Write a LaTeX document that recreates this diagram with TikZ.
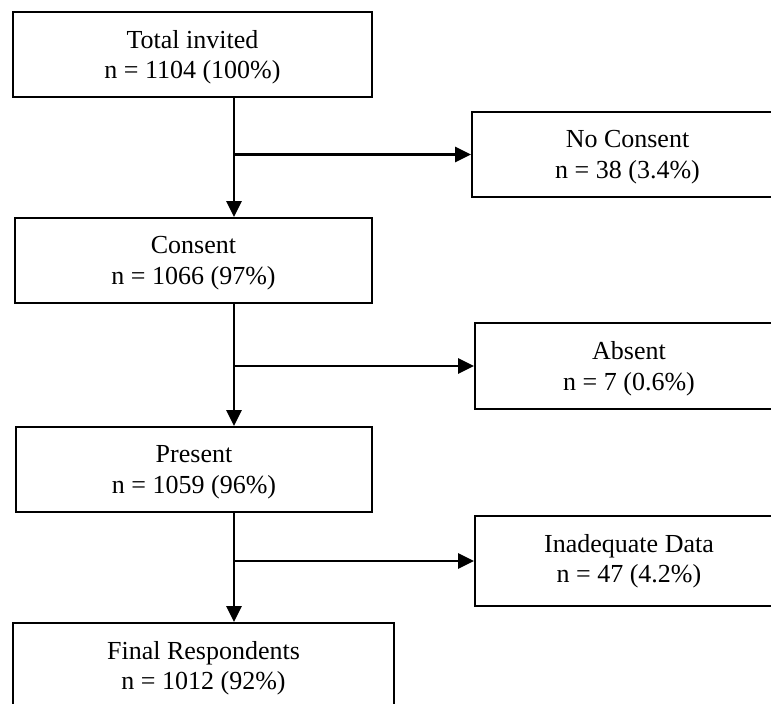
\documentclass[tikz,border=0pt]{standalone}
\usepackage{fontspec}
\setmainfont{Liberation Serif}
\usetikzlibrary{arrows.meta}
\begin{document}
\begin{tikzpicture}[x=1pt,y=-1pt,
  box/.style={draw=black, line width=1.8pt, fill=white, inner sep=0pt},
  txt/.style={align=center, inner sep=0pt, font=\fontsize{26}{30.5}\selectfont},
  arr/.style={line width=2.8pt, -{Triangle[length=16pt,width=15pt]}}]
\useasboundingbox (0,0) rectangle (771,704);
\clip (0,0) rectangle (771,704);
\fill[white] (0,0) rectangle (771,704);
% left column
\node[box, minimum width=359pt, minimum height=85pt] (b1) at (192.5,54.5) {};
\node[box, minimum width=357pt, minimum height=85pt] (b2) at (193.5,260.5) {};
\node[box, minimum width=356pt, minimum height=85pt] (b3) at (194,469.5) {};
\node[box, minimum width=381pt, minimum height=85pt] (b4) at (203.5,665.5) {};
% right column
\node[box, minimum width=311pt, minimum height=85pt] (r1) at (627.5,154.5) {};
\node[box, minimum width=308pt, minimum height=86pt] (r2) at (629,366) {};
\node[box, minimum width=308pt, minimum height=90pt] (r3) at (629,561) {};
% texts
\node[txt] (t1) at ([yshift=-2.5pt]b1.center) {Total invited\\n = 1104 (100\%)};
\node[txt] (t2) at ([yshift=-2.5pt]b2.center) {Consent\\n = 1066 (97\%)};
\node[txt] (t3) at ([yshift=-2.5pt]b3.center) {Present\\n = 1059 (96\%)};
\node[txt] (t4) at ([yshift=-2.5pt]b4.center) {Final Respondents\\n = 1012 (92\%)};
\node[txt] (s1) at ([yshift=-2.5pt]r1.center) {No Consent\\n = 38 (3.4\%)};
\node[txt] (s2) at ([yshift=-2.5pt]r2.center) {Absent\\n = 7 (0.6\%)};
\node[txt] (s3) at ([yshift=0pt]r3.center) {Inadequate Data\\n = 47 (4.2\%)};
% trunk line x position
\coordinate (ax) at (234,0);
\draw[arr] (ax |- b1.south) -- (ax |- b2.north);
\draw[arr] (ax |- b2.south) -- (ax |- b3.north);
\draw[arr] (ax |- b3.south) -- (ax |- b4.north);
\draw[arr] (ax |- r1.west) -- (r1.west);
\draw[arr] (ax |- r2.west) -- (r2.west);
\draw[arr] (ax |- r3.west) -- (r3.west);
\end{tikzpicture}
\end{document}
